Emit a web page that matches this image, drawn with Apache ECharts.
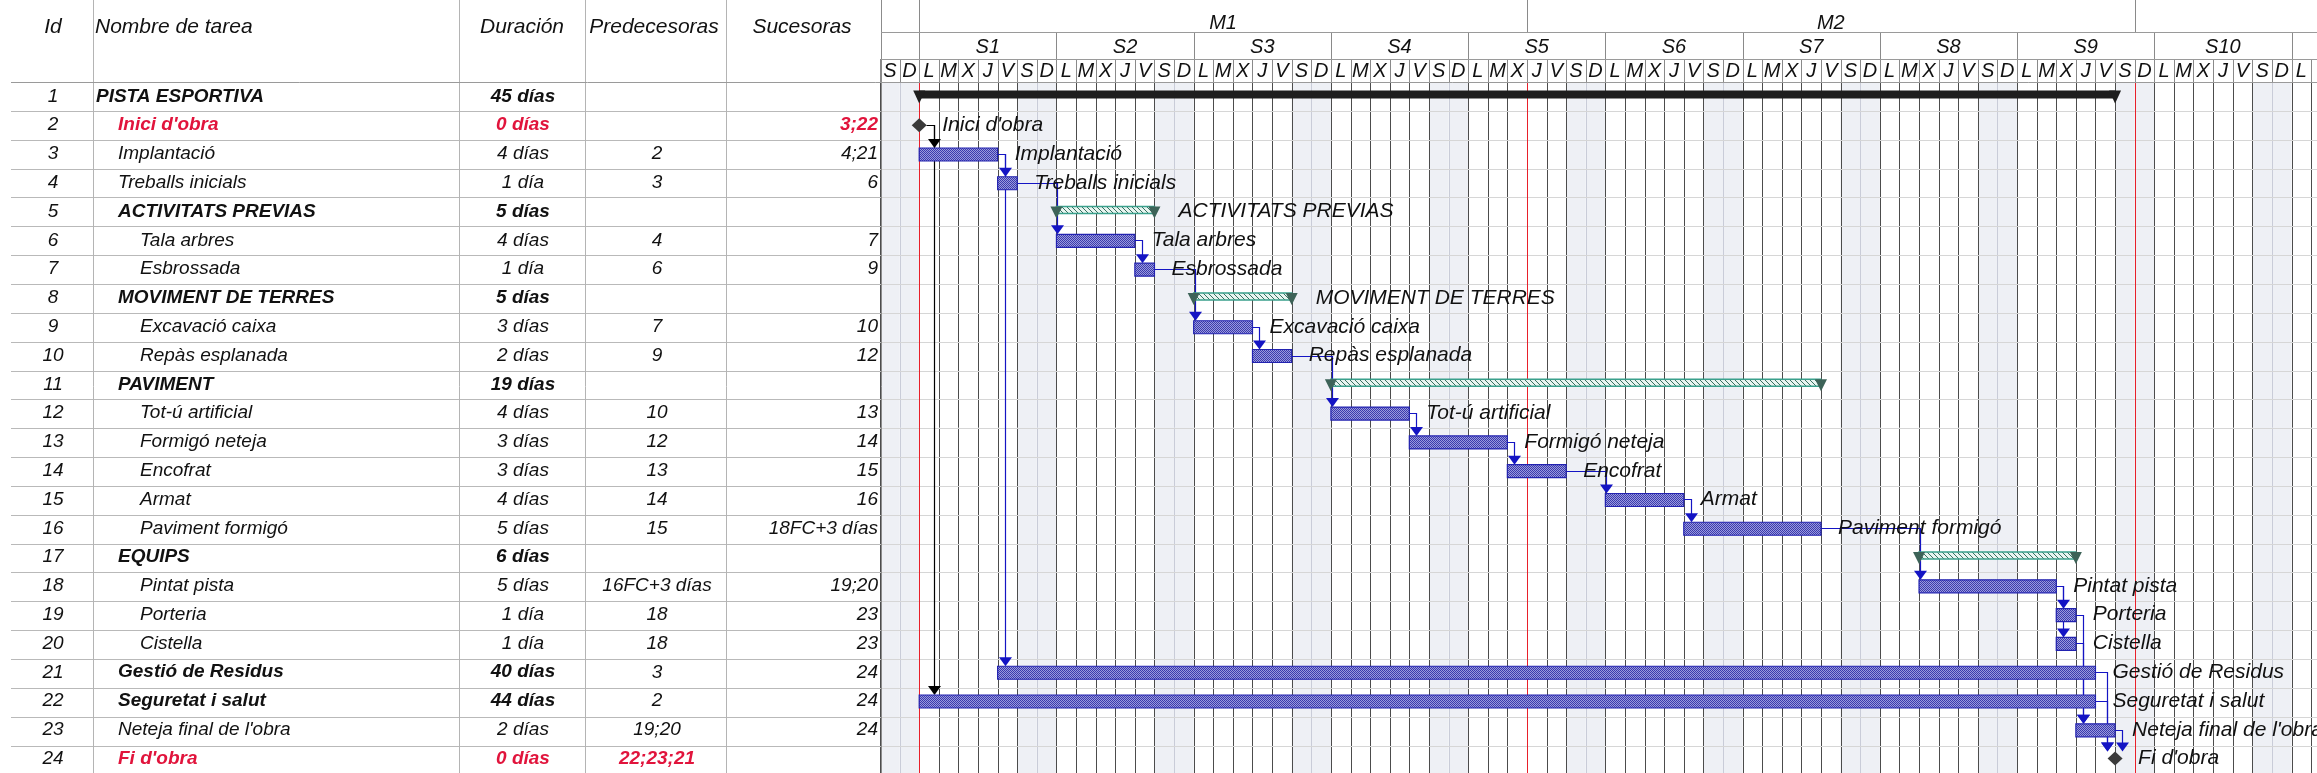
<!DOCTYPE html>
<html>
<head>
<meta charset="utf-8">
<script src="https://cdn.jsdelivr.net/npm/echarts@6/dist/echarts.min.js"></script>
<style>
  html, body { margin: 0; padding: 0; background: #fff; }
  #chart { width: 2317px; height: 773px; }
</style>
</head>
<body>
<div id="chart"></div>
<script>
// ---- datos de la tabla ----
const taskIds = [1, 2, 3, 4, 5, 6, 7, 8, 9, 10, 11, 12, 13, 14, 15, 16, 17, 18, 19, 20, 21, 22, 23, 24];
const taskNames = ["PISTA ESPORTIVA", "Inici d'obra", "Implantació", "Treballs inicials", "ACTIVITATS PREVIAS",
  "Tala arbres", "Esbrossada", "MOVIMENT DE TERRES", "Excavació caixa", "Repàs esplanada", "PAVIMENT",
  "Tot-ú artificial", "Formigó neteja", "Encofrat", "Armat", "Paviment formigó", "EQUIPS", "Pintat pista",
  "Porteria", "Cistella", "Gestió de Residus", "Seguretat i salut", "Neteja final de l'obra", "Fi d'obra"];
const durations = ["45 días", "0 días", "4 días", "1 día", "5 días", "4 días", "1 día", "5 días", "3 días", "2 días",
  "19 días", "4 días", "3 días", "3 días", "4 días", "5 días", "6 días", "5 días", "1 día", "1 día", "40 días",
  "44 días", "2 días", "0 días"];
const predecessors = ["", "", "2", "3", "", "4", "6", "", "7", "9", "", "10", "12", "13", "14", "15", "",
  "16FC+3 días", "18", "18", "3", "2", "19;20", "22;23;21"];
const successors = ["", "3;22", "4;21", "6", "", "7", "9", "", "10", "12", "", "13", "14", "15", "16",
  "18FC+3 días", "", "19;20", "23", "23", "24", "24", "24", ""];
const taskKind = ["project", "milestone", "task", "task", "summary", "task", "task", "summary", "task", "task",
  "summary", "task", "task", "task", "task", "task", "summary", "task", "task", "task", "task", "task", "task",
  "milestone"];
const outlineLevel = [0, 1, 1, 1, 1, 2, 2, 1, 2, 2, 1, 2, 2, 2, 2, 2, 1, 2, 2, 2, 1, 1, 1, 1];
const boldRow = [1, 1, 0, 0, 1, 0, 0, 1, 0, 0, 1, 0, 0, 0, 0, 0, 1, 0, 0, 0, 1, 1, 0, 1];
const barLabel = [0, 1, 1, 1, 1, 1, 1, 1, 1, 1, 0, 1, 1, 1, 1, 1, 0, 1, 1, 1, 1, 1, 1, 1];

// ---- calendario (día 0 = sábado antes de S1) ----
const startDay = [2, 2, 2, 6, 9, 9, 13, 16, 16, 19, 23, 23, 27, 32, 37, 41, 53, 53, 60, 60, 6, 2, 61, 63];
const endDay = [63, 2, 6, 7, 14, 13, 14, 21, 19, 21, 48, 27, 32, 35, 41, 48, 61, 60, 61, 61, 62, 62, 63, 63];
const linkFrom = [2, 2, 3, 3, 4, 6, 7, 9, 10, 12, 13, 14, 15, 16, 18, 18, 19, 20, 21, 22, 23];
const linkTo = [3, 22, 4, 21, 6, 7, 9, 10, 12, 13, 14, 15, 16, 18, 19, 20, 23, 23, 24, 24, 24];

const dayLetters = ["L", "M", "X", "J", "V", "S", "D"];
const weekLabels = ["S1", "S2", "S3", "S4", "S5", "S6", "S7", "S8", "S9", "S10"];
const monthLabels = ["M1", "M2"];
const monthStarts = [2, 33, 64];
const firstMonday = 2;
const visibleDays = 73.3;

// ---- layout ----
const W = 2317, H = 773;
const ROW_TOP = 82, ROW_H = 28.85;
const TABLE_W = 881;
const FONT = '"Liberation Sans", Arial, sans-serif';
const RED = "#e1143c";
const LINK_BLUE = "#1414c4";

const chart = echarts.init(document.getElementById("chart"));

function makePattern(w, h, draw) {
  const cv = document.createElement("canvas");
  cv.width = w;
  cv.height = h;
  draw(cv.getContext("2d"));
  return { image: cv, repeat: "repeat" };
}
const taskFill = makePattern(2, 2, (ctx) => {
  ctx.fillStyle = "#9a9adc";
  ctx.fillRect(0, 0, 2, 2);
  ctx.fillStyle = "#3a3aae";
  ctx.fillRect(0, 0, 1, 1);
  ctx.fillRect(1, 1, 1, 1);
});
const hatchFill = makePattern(5, 5, (ctx) => {
  ctx.fillStyle = "#e8f4f0";
  ctx.fillRect(0, 0, 5, 5);
  ctx.fillStyle = "#35705f";
  for (let k = 0; k < 5; k++) {
    ctx.fillRect(k, k, 1, 1);
  }
});

function txt(text, x, y, font, fill, align) {
  return {
    type: "text",
    style: {
      text: text, x: x, y: y, font: font, fill: fill,
      align: align, verticalAlign: "middle",
      textAlign: align, textVerticalAlign: "middle",
    },
  };
}
function line(x1, y1, x2, y2, color, w) {
  return { type: "line", shape: { x1: x1, y1: y1, x2: x2, y2: y2 }, style: { stroke: color, lineWidth: w || 1 } };
}
function crisp(x) {
  return Math.round(x) + 0.5;
}
function tri(x, yTop, yTip, half, color) {
  return { type: "polygon", shape: { points: [[x - half, yTop], [x + half, yTop], [x, yTip]] }, style: { fill: color } };
}

// ---- tabla ----
function renderTableRow(params, api) {
  const i = api.value(1);
  const c = api.coord([0, i])[1];
  const red = taskKind[i] === "milestone";
  const color = red ? RED : "#111";
  const f = (bold) => "italic " + (bold ? "bold " : "") + "19px " + FONT;
  const nameX = [96, 118, 140][outlineLevel[i]];
  const yb = ROW_TOP + (i + 1) * ROW_H;
  return {
    type: "group",
    children: [
      line(11, crisp(yb), TABLE_W, crisp(yb), "#b9b9b9"),
      txt(String(taskIds[i]), api.coord([53, i])[0], c, f(false), "#111", "center"),
      txt(taskNames[i], api.coord([nameX, i])[0], c, f(boldRow[i]), color, "left"),
      txt(durations[i], api.coord([523, i])[0], c, f(boldRow[i]), color, "center"),
      txt(predecessors[i], api.coord([657, i])[0], c, f(red), color, "center"),
      txt(successors[i], api.coord([878, i])[0], c, f(red), color, "right"),
    ],
  };
}

// ---- fondo del diagrama: fines de semana y líneas de día ----
function renderDayBackground(params, api) {
  const d = api.value(0);
  const x0 = api.coord([d, 0])[0];
  const x1 = api.coord([d + 1, 0])[0];
  const wd = (((d - firstMonday) % 7) + 7) % 7;
  const children = [];
  if (wd >= 5) {
    children.push({ type: "rect", shape: { x: x0, y: ROW_TOP, width: x1 - x0, height: H - ROW_TOP }, style: { fill: "#eef0f5" } });
  }
  children.push(line(crisp(x0), ROW_TOP, crisp(x0), H, wd === 6 ? "#c9ccd8" : "#4c4c4c"));
  // cabecera: letra del día
  children.push(line(crisp(x0), 59, crisp(x0), ROW_TOP, "#8a8a8a"));
  if ((x0 + x1) / 2 < W) {
    children.push(txt(dayLetters[wd], (x0 + x1) / 2, 71, "italic 20px " + FONT, "#111", "center"));
  }
  return { type: "group", children: children };
}

function renderWeek(params, api) {
  const k = api.value(0);
  const s = firstMonday + k * 7;
  const x0 = api.coord([s, 0])[0];
  const x1 = api.coord([s + 7, 0])[0];
  return {
    type: "group",
    children: [
      line(crisp(x0), 32, crisp(x0), 59, "#8a8a8a"),
      line(crisp(x1), 32, crisp(x1), 59, "#8a8a8a"),
      txt(weekLabels[k], (x0 + x1) / 2, 47, "italic 20px " + FONT, "#111", "center"),
    ],
  };
}

function renderMonth(params, api) {
  const k = api.value(0);
  const x0 = api.coord([monthStarts[k], 0])[0];
  const children = [
    line(crisp(x0), 0, crisp(x0), 32, "#8a8a8a"),
    line(crisp(x0), ROW_TOP, crisp(x0), H, "#e8202a"),
  ];
  if (k < monthLabels.length) {
    const x1 = api.coord([monthStarts[k + 1], 0])[0];
    children.push(txt(monthLabels[k], (x0 + x1) / 2, 23, "italic 20px " + FONT, "#111", "center"));
  }
  return { type: "group", children: children };
}

// ---- filas del diagrama ----
function renderGanttRowLine(params, api) {
  const i = api.value(1);
  const yb = crisp(ROW_TOP + (i + 1) * ROW_H);
  return line(TABLE_W, yb, W, yb, "#d6d6d6");
}

// ---- vínculos ----
function topOf(i, c) {
  if (taskKind[i] === "milestone") return c - 7;
  if (taskKind[i] === "summary") return c - 5;
  return c - 6;
}
function renderLink(params, api) {
  const k = api.value(0);
  const a = linkFrom[k] - 1;
  const b = linkTo[k] - 1;
  const pa = api.coord([taskKind[a] === "milestone" ? startDay[a] : endDay[a], a]);
  const pEnd = taskKind[a] === "milestone" ? pa[0] + 7.5 : pa[0];
  const pb = api.coord([startDay[b], b]);
  const sTop = topOf(b, pb[1]);
  let ax = taskKind[b] === "milestone" ? Math.max(pb[0] - 8, pEnd + 7) : Math.max(pb[0] + 1, pEnd + 7);
  ax = crisp(ax);
  const color = taskKind[a] === "milestone" ? "#000" : LINK_BLUE;
  return {
    type: "group",
    children: [
      {
        type: "polyline",
        shape: { points: [[pEnd, crisp(pa[1])], [ax, crisp(pa[1])], [ax, sTop - 6]] },
        style: { stroke: color, lineWidth: 1.2, fill: null },
      },
      tri(ax, sTop - 9, sTop, 6.5, color),
    ],
  };
}

// ---- barras ----
function renderBar(params, api) {
  const i = api.value(2);
  const p0 = api.coord([api.value(0), i]);
  const p1 = api.coord([api.value(1), i]);
  const x0 = p0[0], x1 = p1[0], c = p0[1];
  const kind = taskKind[i];
  const children = [];
  let labelX = null;
  if (kind === "project") {
    children.push({ type: "rect", shape: { x: x0, y: c - 6, width: x1 - x0, height: 8 }, style: { fill: "#1e1e1e" } });
    children.push(tri(x0, c - 6, c + 7, 6, "#1e1e1e"));
    children.push(tri(x1, c - 6, c + 7, 6, "#1e1e1e"));
  } else if (kind === "summary") {
    children.push({
      type: "rect", shape: { x: x0, y: c - 5, width: x1 - x0, height: 7 },
      style: { fill: hatchFill, stroke: "#3aa08c", lineWidth: 1.5 },
    });
    children.push(tri(x0, c - 5, c + 7, 6, "#3d6358"));
    children.push(tri(x1, c - 5, c + 7, 6, "#3d6358"));
    labelX = x1 + 24;
  } else if (kind === "milestone") {
    children.push({
      type: "polygon",
      shape: { points: [[x0, c - 7], [x0 + 7.5, c], [x0, c + 7], [x0 - 7.5, c]] },
      style: { fill: "#3a3a3a" },
    });
    labelX = x0 + 23;
  } else {
    children.push({
      type: "rect", shape: { x: x0, y: c - 6, width: x1 - x0, height: 13 },
      style: { fill: taskFill, stroke: "#2222b0", lineWidth: 1.2 },
    });
    labelX = x1 + 17;
  }
  if (labelX !== null && barLabel[i]) {
    children.push(txt(taskNames[i], labelX, c, "italic 21px " + FONT, "#111", "left"));
  }
  return { type: "group", children: children };
}

const rowIdx = taskIds.map((_, i) => i);
const dayIdx = [];
for (let d = 0; d < Math.ceil(visibleDays); d++) dayIdx.push([d, 0]);

const option = {
  animation: false,
  backgroundColor: "#fff",
  grid: [
    { left: 0, top: ROW_TOP, width: TABLE_W, height: taskIds.length * ROW_H },
    { left: TABLE_W - 1, top: ROW_TOP, right: 0, height: taskIds.length * ROW_H },
  ],
  xAxis: [
    { gridIndex: 0, type: "value", min: 0, max: TABLE_W, show: false },
    { gridIndex: 1, type: "value", min: 0, max: visibleDays, show: false },
  ],
  yAxis: [
    { gridIndex: 0, type: "category", data: taskIds, inverse: true, show: false },
    { gridIndex: 1, type: "category", data: taskIds, inverse: true, show: false },
  ],
  graphic: [
    txt("Id", 53, 27, "italic 21px " + FONT, "#111", "center"),
    txt("Nombre de tarea", 95, 27, "italic 21px " + FONT, "#111", "left"),
    txt("Duración", 522, 27, "italic 21px " + FONT, "#111", "center"),
    txt("Predecesoras", 654, 27, "italic 21px " + FONT, "#111", "center"),
    txt("Sucesoras", 802, 27, "italic 21px " + FONT, "#111", "center"),
    line(93.5, 0, 93.5, H, "#b4b4b4"),
    line(459.5, 0, 459.5, H, "#b4b4b4"),
    line(585.5, 0, 585.5, H, "#b4b4b4"),
    line(726.5, 0, 726.5, H, "#b4b4b4"),
    line(TABLE_W + 0.5, 0, TABLE_W + 0.5, H, "#8c8c8c"),
    line(11, ROW_TOP + 0.5, W, ROW_TOP + 0.5, "#9a9a9a"),
    line(TABLE_W, 32.5, W, 32.5, "#9a9a9a"),
    line(TABLE_W, 59.5, W, 59.5, "#9a9a9a"),
  ].map((g) => Object.assign(g, { z: 50 })),
  series: [
    {
      type: "custom", name: "tabla", xAxisIndex: 0, yAxisIndex: 0, clip: false, z: 5,
      data: rowIdx.map((i) => [0, i]), encode: { x: 0, y: 1 }, renderItem: renderTableRow,
    },
    {
      type: "custom", name: "dias", xAxisIndex: 1, yAxisIndex: 1, clip: false, z: 1,
      data: dayIdx, encode: { x: 0, y: 1 }, renderItem: renderDayBackground,
    },
    {
      type: "custom", name: "filas", xAxisIndex: 1, yAxisIndex: 1, clip: false, z: 2,
      data: rowIdx.map((i) => [0, i]), encode: { x: 0, y: 1 }, renderItem: renderGanttRowLine,
    },
    {
      type: "custom", name: "semanas", xAxisIndex: 1, yAxisIndex: 1, clip: false, z: 2,
      data: weekLabels.map((_, k) => [k, 0]), encode: { x: 0, y: 1 }, renderItem: renderWeek,
    },
    {
      type: "custom", name: "meses", xAxisIndex: 1, yAxisIndex: 1, clip: false, z: 3,
      data: monthStarts.map((_, k) => [k, 0]), encode: { x: 0, y: 1 }, renderItem: renderMonth,
    },
    {
      type: "custom", name: "vinculos", xAxisIndex: 1, yAxisIndex: 1, clip: false, z: 4,
      data: linkFrom.map((_, k) => [k, 0]), encode: { x: 0, y: 1 }, renderItem: renderLink,
    },
    {
      type: "custom", name: "barras", xAxisIndex: 1, yAxisIndex: 1, clip: false, z: 6,
      data: rowIdx.map((i) => [startDay[i], endDay[i], i]), encode: { x: [0, 1], y: 2 }, renderItem: renderBar,
    },
  ],
};

chart.setOption(option);
</script>
</body>
</html>
